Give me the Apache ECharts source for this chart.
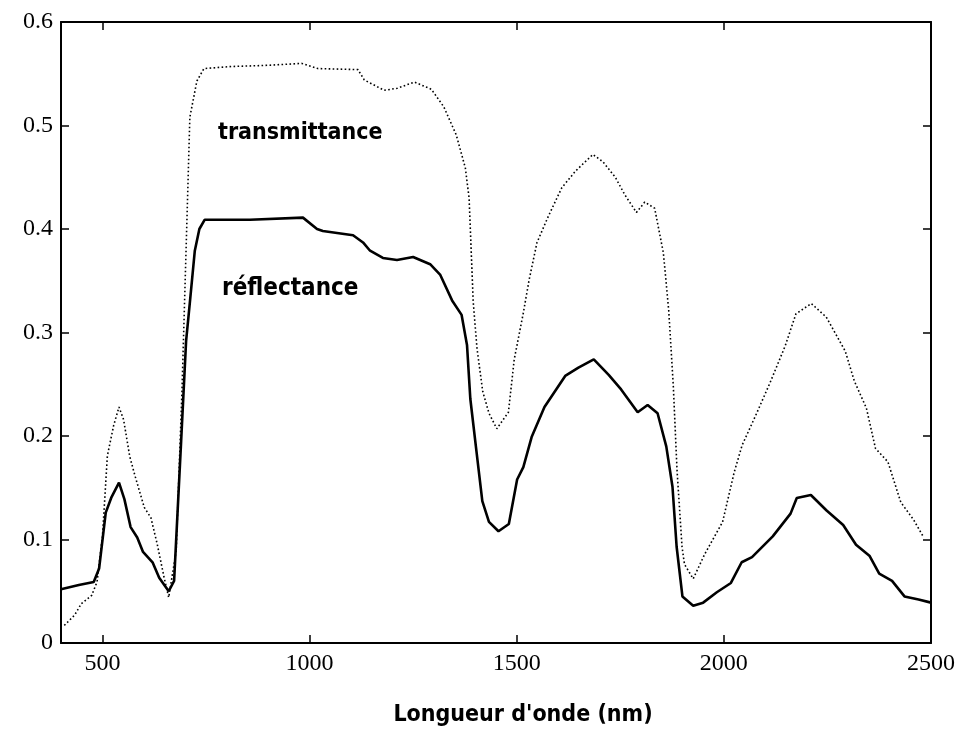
<!DOCTYPE html>
<html><head><meta charset="utf-8">
<script src="https://cdn.jsdelivr.net/npm/echarts@6/dist/echarts.min.js"></script>
<style>html,body{margin:0;padding:0;background:#fff}#c{width:975px;height:748px}</style>
</head><body><div id="c"></div>
<script>
// Wavelength (nm) and values
const reflWl = [400,443,479,492,508,522,540,553,568,584,598,621,637,660,673,690,702,712,723,734,747,856,984,1018,1032,1105,1129,1146,1177,1211,1250,1291,1315,1344,1367,1380,1388,1402,1417,1433,1456,1481,1501,1516,1536,1567,1617,1649,1686,1722,1752,1792,1816,1840,1861,1876,1881,1886,1900,1926,1950,1983,2017,2043,2068,2118,2161,2176,2210,2248,2288,2319,2352,2375,2406,2436,2470,2500];
const reflVal = [0.052,0.056,0.059,0.072,0.126,0.141,0.155,0.139,0.112,0.102,0.088,0.078,0.063,0.050,0.060,0.195,0.292,0.333,0.379,0.400,0.409,0.409,0.411,0.400,0.398,0.394,0.387,0.379,0.372,0.370,0.373,0.366,0.356,0.331,0.317,0.288,0.236,0.188,0.137,0.117,0.108,0.115,0.158,0.170,0.199,0.228,0.258,0.266,0.274,0.259,0.245,0.223,0.230,0.222,0.190,0.151,0.122,0.093,0.045,0.036,0.039,0.049,0.058,0.078,0.083,0.103,0.125,0.140,0.143,0.128,0.114,0.095,0.084,0.067,0.060,0.045,0.042,0.039];
const transWl = [408,433,449,474,487,500,512,527,540,551,566,579,601,617,632,649,660,678,692,706,711,728,745,811,891,981,1020,1117,1132,1180,1212,1253,1294,1324,1354,1376,1385,1390,1395,1404,1418,1433,1452,1480,1494,1516,1530,1549,1576,1609,1642,1684,1708,1738,1761,1789,1809,1833,1854,1867,1878,1887,1899,1905,1926,1954,1997,2025,2044,2077,2111,2148,2174,2211,2247,2293,2315,2344,2366,2396,2427,2458,2481];
const transVal = [0.017,0.027,0.038,0.046,0.059,0.103,0.181,0.210,0.228,0.216,0.180,0.161,0.131,0.121,0.096,0.063,0.044,0.089,0.243,0.437,0.508,0.543,0.555,0.557,0.558,0.560,0.555,0.554,0.544,0.534,0.536,0.542,0.535,0.518,0.491,0.459,0.430,0.380,0.330,0.285,0.243,0.222,0.207,0.223,0.274,0.319,0.351,0.387,0.412,0.440,0.456,0.472,0.465,0.450,0.433,0.416,0.426,0.420,0.377,0.321,0.248,0.167,0.093,0.076,0.062,0.086,0.117,0.165,0.191,0.220,0.251,0.287,0.318,0.328,0.315,0.282,0.253,0.227,0.188,0.175,0.136,0.119,0.103];
const xTicks = [500,1000,1500,2000,2500];
const seriesNames = ['réflectance','transmittance'];
const xTitle = "Longueur d'onde (nm)";

const zip = (a,b) => a.map((v,i)=>[v,b[i]]);
const serifFont = "'Liberation Serif','DejaVu Serif',serif";
const condFont = "'DejaVu Sans Condensed','Liberation Sans Narrow','DejaVu Sans',sans-serif";

const chart = echarts.init(document.getElementById('c'), null, {renderer:'canvas'});
const axisLineStyle = {color:'#000', width:2};
const xBase = {
  type:'value', min:400, max:2500, splitLine:{show:false},
  axisLine:{show:true, onZero:false, lineStyle:axisLineStyle},
  axisTick:{show:true, inside:true, length:8, customValues:xTicks, lineStyle:{color:'#000',width:1.5}}
};
const yBase = {
  type:'value', min:0, max:0.6, interval:0.1, splitLine:{show:false},
  axisLine:{show:true, onZero:false, lineStyle:axisLineStyle},
  axisTick:{show:true, inside:true, length:8, lineStyle:{color:'#000',width:1.5}}
};
chart.setOption({
  backgroundColor:'#fff',
  animation:false,
  grid:{left:61, right:44, top:22, bottom:105, containLabel:false},
  xAxis:[
    Object.assign({}, xBase, {position:'bottom',
      name:xTitle, nameLocation:'middle', nameGap:61,
      nameTextStyle:{fontFamily:condFont, fontWeight:'bold', fontSize:23, color:'#000', padding:[0,0,0,54]},
      axisLabel:{show:true, customValues:xTicks, margin:9, fontFamily:serifFont, fontSize:24, color:'#000',
        formatter:(v)=>String(v)}}),
    Object.assign({}, xBase, {position:'top', axisLabel:{show:false}})
  ],
  yAxis:[
    Object.assign({}, yBase, {position:'left',
      axisLabel:{show:true, margin:8, fontFamily:serifFont, fontSize:24, color:'#000',
        formatter:(v)=>String(Math.round(v*10)/10)}}),
    Object.assign({}, yBase, {position:'right', axisLabel:{show:false}})
  ],
  series:[
    {name:seriesNames[0], type:'line', xAxisIndex:0, yAxisIndex:0, showSymbol:false, smooth:false,
     data:zip(reflWl, reflVal), lineStyle:{color:'#000', width:2.6}},
    {name:seriesNames[1], type:'line', xAxisIndex:0, yAxisIndex:0, showSymbol:false, smooth:false,
     data:zip(transWl, transVal), lineStyle:{color:'#000', width:1.6, type:[1.6,2.4]}}
  ],
  graphic:[
    {type:'text', left:218, top:122, style:{text:seriesNames[1], font:"bold 23px "+condFont, fill:'#000'}},
    {type:'text', left:222, top:277, style:{text:seriesNames[0], font:"bold 24px "+condFont, fill:'#000'}}
  ]
});
</script></body></html>
